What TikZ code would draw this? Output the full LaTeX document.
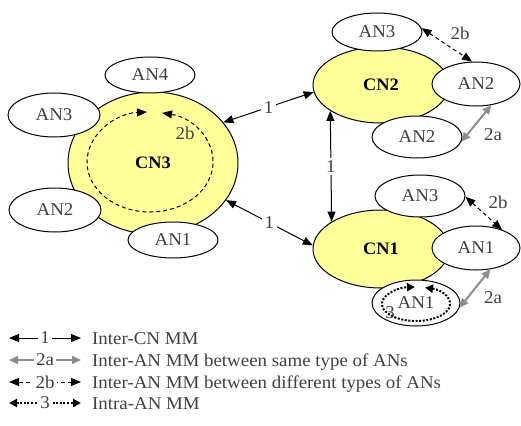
\documentclass[tikz,border=0pt]{standalone}
\usepackage{fontspec}
\setmainfont[FakeStretch=1.05]{Liberation Serif}
\usetikzlibrary{shapes.geometric,arrows.meta}

\definecolor{cnfill}{HTML}{FFFF99}
\definecolor{txtgray}{HTML}{404040}
\definecolor{arrgray}{HTML}{8C8C8C}

\begin{document}
\begin{tikzpicture}[x=1pt,y=-1pt,
  >={Triangle[length=10pt,width=8pt]},
  every node/.style={font=\fontsize{18}{21}\selectfont},
  cnnode/.style={ellipse,draw,fill=cnfill,line width=1pt,inner sep=0pt,
    font=\fontsize{17.5}{21}\selectfont\bfseries,text=black},
  annode/.style={ellipse,draw,fill=white,line width=1pt,inner sep=0pt,text=txtgray},
  lbl/.style={fill=white,inner sep=2.5pt,text=txtgray},
  tag/.style={text=txtgray,inner sep=0pt},
  cnlink/.style={line width=1pt,<->},
  samelink/.style={line width=2pt,draw=arrgray,<->,>={Triangle[length=9pt,width=8pt,fill=arrgray]}},
  difflink/.style={line width=1pt,<->,dash pattern=on 4pt off 3pt},
  intralink/.style={line width=2pt,<->,dash pattern=on 2pt off 1.6pt,>={Triangle[length=8pt,width=8pt]}},
  legtext/.style={anchor=base west,inner sep=0pt,text=txtgray}
]
\useasboundingbox (0,0) rectangle (521,425);

% core network nodes
\node[cnnode,minimum width=170,minimum height=142] (cn3) at (153,163) {CN3};
\node[cnnode,minimum width=136,minimum height=76] (cn2) at (381,85) {CN2};
\node[cnnode,minimum width=136,minimum height=78] (cn1) at (381,249) {CN1};

% movement loop between different ANs inside CN3
\coordinate (loop3) at (150,162);
\draw[difflink] ([shift={(281:63 and 50)}]loop3)
  arc[start angle=281,end angle=627.3,x radius=63,y radius=50];
\node[tag] (t2b3) at (185,133) {2b};

% access network nodes
\node[annode,minimum width=90,minimum height=36] (an4) at (150,75) {AN4};
\node[annode,minimum width=92,minimum height=44] (an3l) at (54,115) {AN3};
\node[annode,minimum width=92,minimum height=44] (an2l) at (55,210) {AN2};
\node[annode,minimum width=90,minimum height=36] (an1l) at (173,240) {AN1};

\node[annode,minimum width=90,minimum height=38] (an3t) at (377,32) {AN3};
\node[annode,minimum width=88,minimum height=44] (an2r) at (476,84) {AN2};
\node[annode,minimum width=90,minimum height=42] (an2b) at (417,137) {AN2};

\node[annode,minimum width=90,minimum height=42] (an3b) at (420,196) {AN3};
\node[annode,minimum width=88,minimum height=44] (an1r) at (476,248) {AN1};
\node[annode,minimum width=88,minimum height=46] (an1b) at (416,303) {AN1};

% intra-AN loop
\coordinate (loop1) at (416,304);
\draw[intralink] ([shift={(285.4:34 and 17)}]loop1)
  arc[start angle=285.4,end angle=628.3,x radius=34,y radius=17];
\node[tag] (t3) at (390,313) {3};

% inter-CN links
\draw[cnlink] (cn3.30) -- node[lbl] (l1a) {1} (cn2.186);
\draw[cnlink] (cn3.-27) -- node[lbl] (l1b) {1} (cn1.177);
\draw[cnlink] (cn2.207) -- node[lbl] (l1c) {1} (cn1.151);

% inter-AN links
\draw[difflink] (an3t.5) -- (an2r.100);
\node[tag] (t2b2) at (460,33) {2b};
\draw[samelink] (an2r.-54) -- (an2b.-6);
\node[tag] (t2a2) at (493,135) {2a};

\draw[difflink] (an3b.-1) -- (an1r.35);
\node[tag] (t2b1) at (498,202) {2b};
\draw[samelink] (an1r.-56) -- (an1b.-6);
\node[tag] (t2a1) at (493,298) {2a};

% legend
\coordinate (k1l) at (9,338);  \coordinate (k1r) at (81,338);
\coordinate (k2l) at (9,360);  \coordinate (k2r) at (81,360);
\coordinate (k3l) at (9,382);  \coordinate (k3r) at (81,382);
\coordinate (k4l) at (9,403);  \coordinate (k4r) at (81,403);
\draw[cnlink] (k1l) -- node[lbl] (k1n) {1} (k1r);
\draw[samelink] (k2l) -- node[lbl] (k2n) {2a} (k2r);
\draw[difflink] (k3l) -- node[lbl] (k3n) {2b} (k3r);
\draw[intralink] (k4l) -- node[lbl] (k4n) {3} (k4r);
\node[legtext] (k1t) at (92,344) {Inter-CN MM};
\node[legtext] (k2t) at (92,366) {Inter-AN MM between same type of ANs};
\node[legtext] (k3t) at (92,388) {Inter-AN MM between different types of ANs};
\node[legtext] (k4t) at (92,409) {Intra-AN MM};
\end{tikzpicture}
\end{document}
